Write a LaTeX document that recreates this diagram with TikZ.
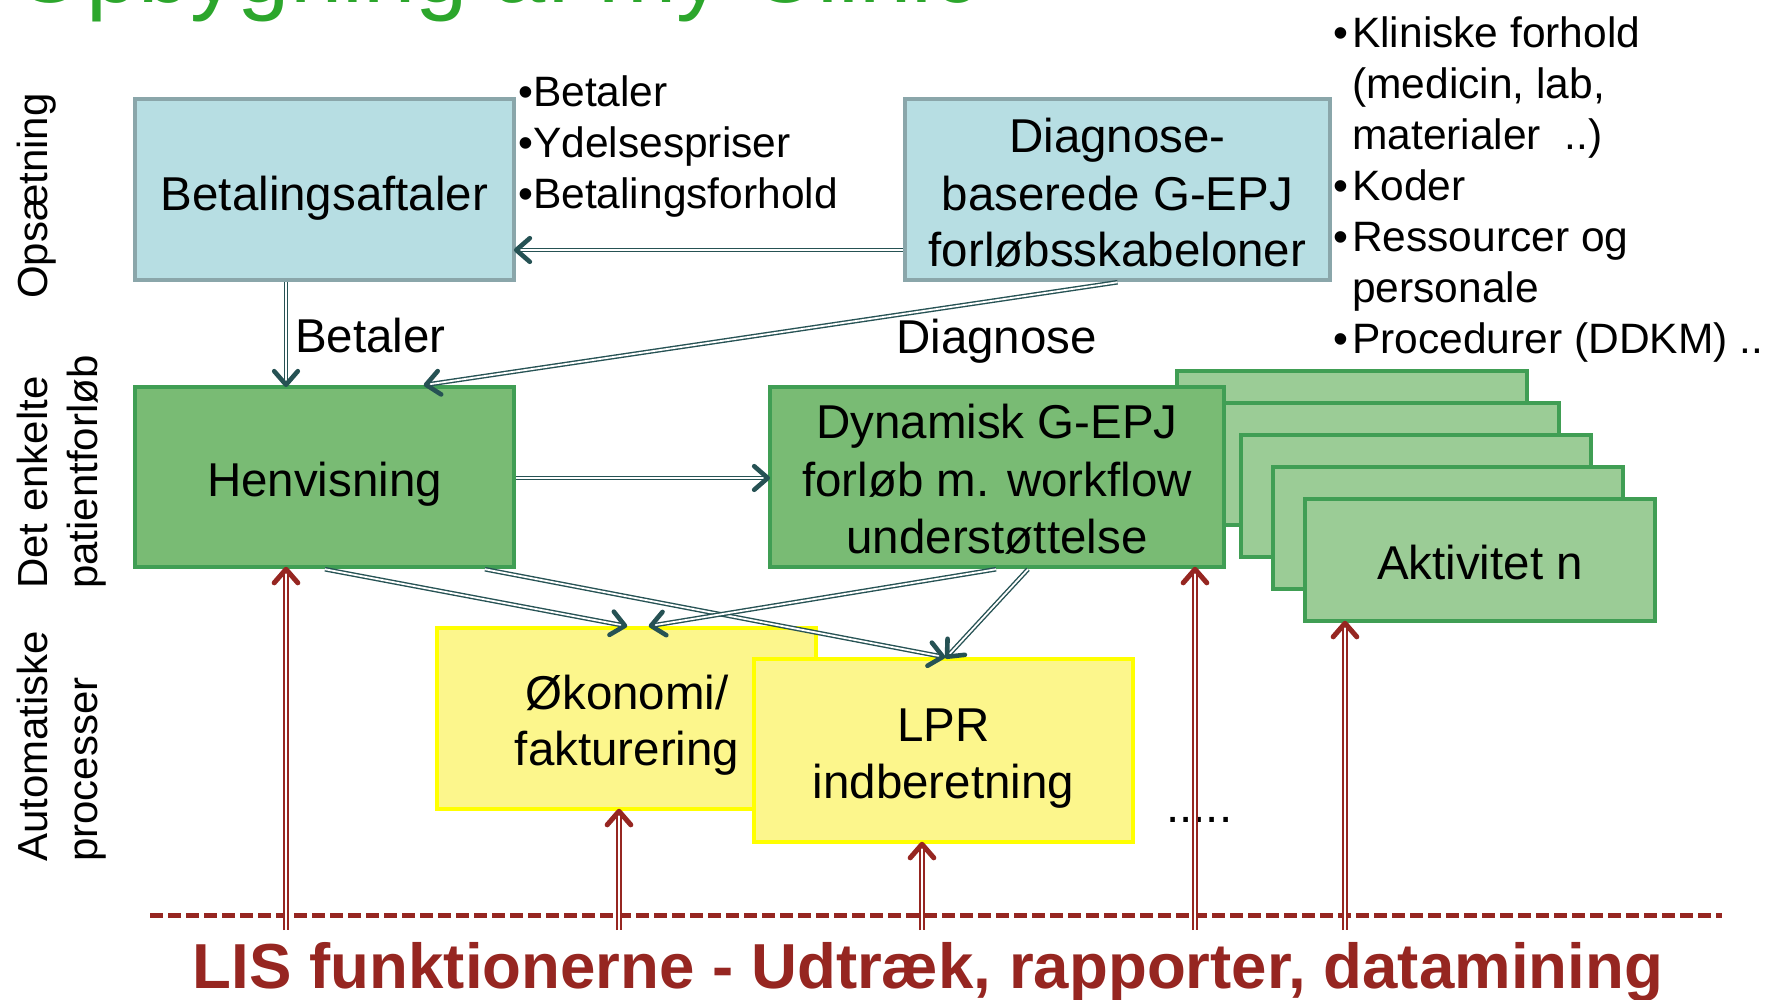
\documentclass[tikz,border=0pt]{standalone}
\usepackage{fontspec}
\setmainfont{Liberation Sans}
\usetikzlibrary{arrows.meta,calc}
\definecolor{bluefill}{RGB}{183,222,227}
\definecolor{blueline}{RGB}{138,166,170}
\definecolor{gfill}{RGB}{121,187,116}
\definecolor{gline}{RGB}{64,158,84}
\definecolor{lgfill}{RGB}{155,204,150}
\definecolor{yfill}{RGB}{252,246,140}
\definecolor{yline}{RGB}{255,255,0}
\definecolor{tealc}{RGB}{38,82,84}
\definecolor{darkred}{RGB}{150,38,33}
\definecolor{titlegreen}{RGB}{44,166,44}
% connector: shaft style, tip style, from, to
\newcommand{\conn}[4]{%
  \draw[#1] (#3) -- (#4);
  \draw[#2] ($(#4)!18pt!41:(#3)$) -- (#4) -- ($(#4)!18pt!-41:(#3)$);}
\begin{document}
\begin{tikzpicture}[x=1pt,y=-1pt,
  box/.style={rectangle, line width=4.5pt, inner sep=0pt},
  bluebox/.style={box, fill=bluefill, draw=blueline},
  greenbox/.style={box, fill=gfill, draw=gline},
  stackbox/.style={box, fill=lgfill, draw=gline, minimum width=350pt, minimum height=122pt},
  yellowbox/.style={box, fill=yfill, draw=yline},
  boxtext/.style={anchor=base, inner sep=0pt, font=\fontsize{47.5}{57}\selectfont},
  lbltext/.style={anchor=base west, inner sep=0pt, font=\fontsize{47.5}{57}\selectfont},
  bullettext/.style={anchor=base west, inner sep=0pt, align=left, font=\fontsize{42.5}{51}\selectfont},
  sidetext/.style={anchor=base west, rotate=90, inner sep=0pt, font=\fontsize{42}{50}\selectfont},
  tshaft/.style={draw=tealc, double=white, line width=1.4pt, double distance=1.8pt, shorten >=2.5pt},
  ttip/.style={draw=tealc, line width=4.6pt, line cap=round, line join=round},
  rshaft/.style={draw=darkred, double=white, line width=1.4pt, double distance=2.4pt, shorten >=2.5pt},
  rtip/.style={draw=darkred, line width=5pt, line cap=round, line join=round}
]
\useasboundingbox (0,0) rectangle (1767,999);
\clip (0,0) rectangle (1767,999);

% title (cut off at top)
\node[anchor=base west, inner sep=0pt, text=titlegreen, font=\fontsize{94}{100}\selectfont] (title) at (13,2) {Opbygning af my Clinic};

% side labels
\node[sidetext] (side1) at (47,299) {Opsætning};
\node[sidetext] (side2a) at (47,589) {Det enkelte};
\node[sidetext] (side2b) at (97,589) {patientforløb};
\node[sidetext] (side3a) at (47,862) {Automatiske};
\node[sidetext] (side3b) at (97,862) {processer};

% top row
\node[bluebox, minimum width=379pt, minimum height=181pt] (bet) at (324.5,189.5) {};
\node[boxtext] (bett) at (324.5,210) {Betalingsaftaler};
\node[bluebox, minimum width=425pt, minimum height=181pt] (diag) at (1117.5,189.5) {};
\node[boxtext] (diagt1) at (1117.5,152) {Diagnose-};
\node[boxtext] (diagt2) at (1117.5,210) {baserede G-EPJ};
\node[boxtext] (diagt3) at (1117.5,266) {forløbsskabeloner};

\node[bullettext] (bull1) at (518,208) {•Betaler\\•Ydelsespriser\\•Betalingsforhold};
\node[bullettext] (bull2) at (1333,353) {%
\makebox[19pt][l]{•}Kliniske forhold\\
\hspace*{19pt}(medicin, lab,\\
\hspace*{19pt}materialer~~..)\\
\makebox[19pt][l]{•}Koder\\
\makebox[19pt][l]{•}Ressourcer og\\
\hspace*{19pt}personale\\
\makebox[19pt][l]{•}Procedurer (DDKM) ..};

\node[lbltext] (lblbet) at (295,352) {Betaler};
\node[lbltext] (lbldiag) at (896,353) {Diagnose};

% activity stack
\node[stackbox] (s1) at (1352,432) {};
\node[stackbox] (s2) at (1384,464) {};
\node[stackbox] (s3) at (1416,496) {};
\node[stackbox] (s4) at (1448,528) {};
\node[stackbox] (akt) at (1480,560) {};
\node[boxtext] (aktt) at (1480,579) {Aktivitet n};

% middle row
\node[greenbox, minimum width=379pt, minimum height=180pt] (henv) at (324.5,477) {};
\node[boxtext] (henvt) at (324.5,496) {Henvisning};
\node[greenbox, minimum width=454pt, minimum height=180pt] (dyn) at (997,477) {};
\node[boxtext] (dynt1) at (997,438) {Dynamisk G-EPJ};
\node[boxtext] (dynt2) at (997,496) {forløb m. workflow};
\node[boxtext] (dynt3) at (997,553) {understøttelse};

% bottom row
\node[yellowbox, minimum width=379pt, minimum height=181pt] (oko) at (626.5,718.5) {};
\node[boxtext] (okot1) at (627,709) {Økonomi/};
\node[boxtext] (okot2) at (627,765) {fakturering};
\node[yellowbox, minimum width=379pt, minimum height=183pt] (lpr) at (943.5,750.5) {};
\node[boxtext] (lprt1) at (943.5,741) {LPR};
\node[boxtext] (lprt2) at (943.5,798) {indberetning};
\node[lbltext] (dots) at (1166,822) {.....};

% teal connectors
\coordinate (a1s) at (diag.west |- 0,250);   \coordinate (a1e) at (bet.east |- 0,250);
\coordinate (a2s) at (bet.south -| 286,0);   \coordinate (a2e) at (henv.north -| 286,0);
\coordinate (a3s) at (diag.south);           \coordinate (a3e) at (henv.north -| 426,0);
\coordinate (a4s) at (henv.east |- 0,478);   \coordinate (a4e) at (dyn.west |- 0,478);
\coordinate (a5s) at (henv.south -| 325,0);  \coordinate (a5e) at (oko.north -| 625,0);
\coordinate (a6s) at (henv.south -| 485,0);  \coordinate (a6e) at (lpr.north -| 943,0);
\coordinate (a7s) at (dyn.south -| 996,0);   \coordinate (a7e) at (oko.north -| 651,0);
\coordinate (a8s) at (dyn.south -| 1028,0);  \coordinate (a8e) at (lpr.north -| 947,0);
\conn{tshaft}{ttip}{a1s}{a1e}
\conn{tshaft}{ttip}{a2s}{a2e}
\conn{tshaft}{ttip}{a3s}{a3e}
\conn{tshaft}{ttip}{a4s}{a4e}
\conn{tshaft}{ttip}{a5s}{a5e}
\conn{tshaft}{ttip}{a6s}{a6e}
\conn{tshaft}{ttip}{a7s}{a7e}
\conn{tshaft}{ttip}{a8s}{a8e}

% dashed line and LIS
\coordinate (dl) at (150,915);
\coordinate (dr) at (1722,915);
\draw[darkred, line width=5pt, dash pattern=on 13pt off 5pt] (dl) -- (dr);

\coordinate (r1) at (286,930);
\coordinate (r2) at (619,930);
\coordinate (r3) at (922,930);
\coordinate (r4) at (1195,930);
\coordinate (r5) at (1345,930);
\coordinate (r1e) at (henv.south -| r1);
\coordinate (r2e) at (oko.south -| r2);
\coordinate (r3e) at (lpr.south -| r3);
\coordinate (r4e) at (dyn.south -| r4);
\coordinate (r5e) at (akt.south -| r5);
\conn{rshaft}{rtip}{r1}{r1e}
\conn{rshaft}{rtip}{r2}{r2e}
\conn{rshaft}{rtip}{r3}{r3e}
\conn{rshaft}{rtip}{r4}{r4e}
\conn{rshaft}{rtip}{r5}{r5e}

\node[anchor=base, inner sep=0pt, text=darkred, font=\fontsize{63.6}{70}\selectfont\bfseries] (lis) at (928,988) {LIS funktionerne - Udtræk, rapporter, datamining};
\end{tikzpicture}
\end{document}
